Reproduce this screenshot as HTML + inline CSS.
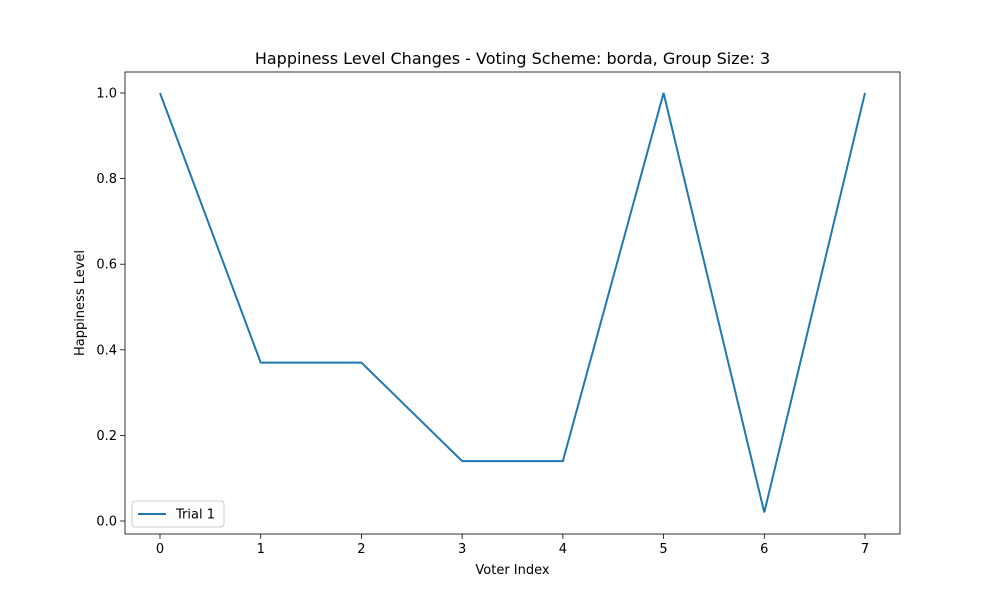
<!DOCTYPE html>
<html><head><meta charset="utf-8"><style>
body{margin:0;background:#fff;}
svg text{font-family:"DejaVu Sans","Liberation Sans",sans-serif;fill:#000;}
</style></head><body>
<svg width="1000" height="600">
<g id="g"></g>
</svg>
<script>
const categories=[0,1,2,3,4,5,6,7];
const trial1=[1,0.37,0.37,0.14,0.14,1,0.02,1];
const yTicks=[0,0.2,0.4,0.6,0.8,1.0];
const yTickLabels=["0.0","0.2","0.4","0.6","0.8","1.0"];
const NS="http://www.w3.org/2000/svg";
const g=document.getElementById('g');
const L=125,R=900,T=72,B=534;
const x=v=>160+(v-0)*(865-160)/7;
const y=v=>521-v*428;
function el(t,a,txt){const e=document.createElementNS(NS,t);for(const k in a)e.setAttribute(k,a[k]);if(txt!=null)e.textContent=txt;g.appendChild(e);return e;}
let e;
e=el('rect',{x:L,y:T,width:R-L,height:B-T,fill:'none',stroke:'#000','stroke-width':0.8});


categories.forEach(c=>{
 e=el('line',{x1:x(c),x2:x(c),y1:B,y2:B+4.9,stroke:'#000','stroke-width':0.8});
 
 
 e=el('text',{x:x(c),y:B+19,'text-anchor':'middle','font-size':13},String(c));
 
 
});
yTicks.forEach((v,i)=>{
 e=el('line',{x1:L-4.9,x2:L,y1:y(v),y2:y(v),stroke:'#000','stroke-width':0.8});
 
 
 e=el('text',{x:L-8,y:y(v)+4.5,'text-anchor':'end','font-size':13},yTickLabels[i]);
 
 
});
e=el('polyline',{points:categories.map((c,i)=>x(c)+','+y(trial1[i])).join(' '),fill:'none',stroke:'#1f77b4','stroke-width':2});


e=el('text',{x:512.5,y:64,'text-anchor':'middle','font-size':16},'Happiness Level Changes - Voting Scheme: borda, Group Size: 3');


e=el('text',{x:512.5,y:574,'text-anchor':'middle','font-size':13},'Voter Index');


e=el('text',{x:84,y:303,'text-anchor':'middle','font-size':13,transform:'rotate(-90 84 303)'},'Happiness Level');


e=el('rect',{x:132,y:501,width:92,height:26,rx:3,fill:'#fff',stroke:'#ccc','stroke-width':1});


e=el('line',{x1:138,x2:166,y1:514,y2:514,stroke:'#1f77b4','stroke-width':2});


e=el('text',{x:176,y:518.5,'font-size':13},'Trial 1');


</script>
</body></html>
